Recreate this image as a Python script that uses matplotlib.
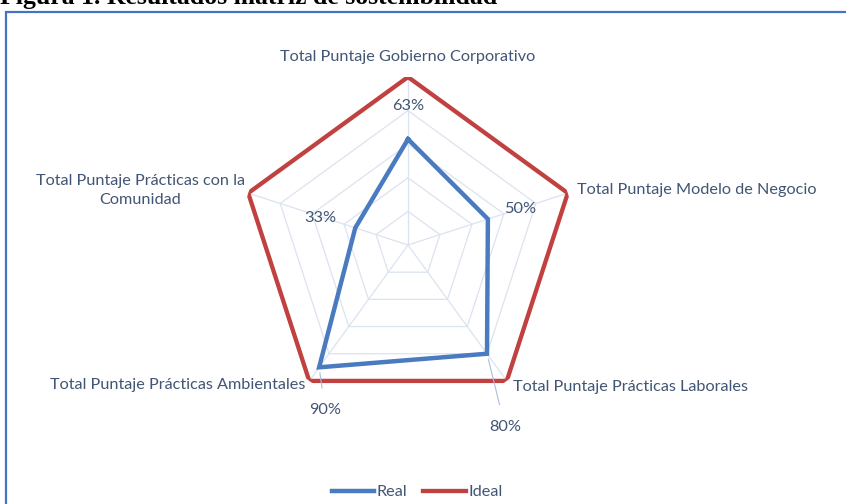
import numpy as np
import matplotlib
matplotlib.use("Agg")
import matplotlib.pyplot as plt
from matplotlib.patches import Rectangle

# categories and series
categories = ["Total Puntaje Gobierno Corporativo",
              "Total Puntaje Modelo de Negocio",
              "Total Puntaje Prácticas Laborales",
              "Total Puntaje Prácticas Ambientales",
              "Total Puntaje Prácticas con la\nComunidad"]
real = [0.63, 0.50, 0.80, 0.90, 0.33]
ideal = [1.0, 1.0, 1.0, 1.0, 1.0]
real_labels = ["63%", "50%", "80%", "90%", "33%"]
grid_levels = [0.2, 0.4, 0.6, 0.8]

BLUE = "#4a7bc0"
RED = "#c0413f"
TXT = "#415574"
GRID = "#dbe3f0"

plt.rcParams['font.family'] = ['Lato', 'DejaVu Sans']

fig = plt.figure(figsize=(8.46, 5.04), dpi=100)

# figure title (cut at top in the source)
fig.text(0 / 846, 1 - 4 / 504, "Figura 1. Resultados matriz de sostenibilidad",
         family="Liberation Serif", weight="bold", fontsize=18.5,
         ha="left", va="baseline", color="black")

# blue frame around the chart
fig.patches.append(Rectangle((6 / 846, -0.2), 1.2, 1 - 12 / 504 + 0.2,
                             transform=fig.transFigure, fill=False,
                             edgecolor="#4472c4", lw=1.6))

ax = fig.add_axes([240 / 846, 91 / 504, 336 / 846, 336 / 504], projection="polar")
ax.set_theta_offset(np.pi / 2)
ax.set_theta_direction(-1)
ax.set_ylim(0, 1)
ax.grid(False)
ax.spines["polar"].set_visible(False)
ax.set_xticks([])
ax.set_yticks([])
ax.patch.set_alpha(0)

n = len(categories)
theta = np.arange(n) * 2 * np.pi / n
tc = np.append(theta, theta[0])

# web grid
for lv in grid_levels:
    ax.plot(tc, [lv] * (n + 1), color=GRID, lw=0.9, zorder=1)
for t in theta:
    ax.plot([t, t], [0, 1], color=GRID, lw=0.9, zorder=1)

ax.plot(tc, ideal + ideal[:1], color=RED, lw=3.1, zorder=3,
        solid_joinstyle="miter", label="Ideal")
ax.plot(tc, real + real[:1], color=BLUE, lw=3.2, zorder=4,
        solid_joinstyle="miter", label="Real")

# category labels
cat_offsets = [(0, 20, "center"), (9, 3, "left"), (6, -6, "left"),
               (-4, -4, "right"), (-108, 3, "center")]
for t, lab, (dx, dy, ha) in zip(theta, categories, cat_offsets):
    ax.annotate(lab, xy=(t, 1.0), xytext=(dx, dy), textcoords="offset pixels",
                ha=ha, va="center", fontsize=11.7, color=TXT, linespacing=1.45,
                multialignment="center", annotation_clip=False)

# data labels
lab_offsets = [(0, 33, False), (32, 10, False), (18, -73, True),
               (6, -43, True), (-35, 10, False)]
for t, v, lab, (dx, dy, lead) in zip(theta, real, real_labels, lab_offsets):
    ap = None
    if lead:
        ap = dict(arrowstyle="-", color="#a9bfdf", lw=0.8, shrinkA=9, shrinkB=4)
    ax.annotate(lab, xy=(t, v), xytext=(dx, dy), textcoords="offset pixels",
                ha="center", va="center", fontsize=11.7, color=TXT,
                arrowprops=ap, annotation_clip=False)

h, l = ax.get_legend_handles_labels()
leg = fig.legend(h[::-1], l[::-1], loc="center", bbox_to_anchor=(417 / 846, 1 - 492 / 504),
                 ncol=2, frameon=False, fontsize=11.7, handlelength=2.6,
                 handletextpad=0.15, columnspacing=1.0)
for txt in leg.get_texts():
    txt.set_color(TXT)

fig.savefig("out.png", dpi=100)
